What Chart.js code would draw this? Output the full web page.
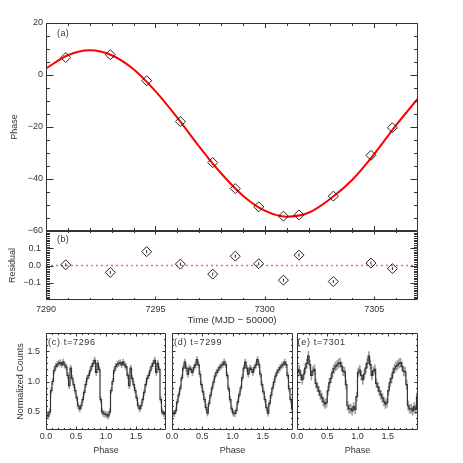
<!DOCTYPE html>
<html><head><meta charset="utf-8">
<script src="https://cdn.jsdelivr.net/npm/chart.js@4"></script>
<style>
html,body{margin:0;padding:0;background:#fff;width:463px;height:463px;overflow:hidden}
#wrap{position:relative;width:463px;height:463px}
canvas{position:absolute;left:0;top:0;width:463px;height:463px}
.lbl{position:absolute;font:9px "Liberation Sans",Arial,sans-serif;color:#333;white-space:pre;line-height:1}
</style></head><body>
<div id="wrap">
<canvas id="cA" width="463" height="463"></canvas>
<canvas id="cB" width="463" height="463"></canvas>
<canvas id="cC" width="463" height="463"></canvas>
<canvas id="cD" width="463" height="463"></canvas>
<canvas id="cE" width="463" height="463"></canvas>
<div class="lbl" style="left:57px;top:28.5px;letter-spacing:0.4px">(a)</div>
<div class="lbl" style="left:57px;top:235px;letter-spacing:0.4px">(b)</div>
<div class="lbl" style="left:48px;top:338px;letter-spacing:0.7px">(c) t=7296</div>
<div class="lbl" style="left:174px;top:338px;letter-spacing:0.7px">(d) t=7299</div>
<div class="lbl" style="left:297.5px;top:338px;letter-spacing:0.7px">(e) t=7301</div>
</div>
<script>
// ---------- data ----------
const obsTimes = [7290.90, 7292.94, 7294.60, 7296.14, 7297.62, 7298.65, 7299.72, 7300.85, 7301.56, 7303.13, 7304.85, 7305.83];
const obsPhase = [6.7, 7.8, -2.2, -17.9, -33.7, -43.7, -50.7, -54.3, -53.8, -46.6, -30.9, -20.3];
const obsResidual = [0.004, -0.040, 0.080, 0.008, -0.050, 0.054, 0.010, -0.085, 0.060, -0.093, 0.014, -0.018];
const fitTimes = [7290, 7291, 7292, 7293, 7294, 7295, 7296, 7297, 7298, 7299, 7300, 7301, 7302, 7303, 7304, 7305, 7306, 7307];
const fitPhase = [2.5, 7.6, 9.5, 7.6, 2.2, -6.2, -16.4, -27.5, -37.8, -46.4, -52.2, -54.5, -53.0, -47.6, -40.3, -30.4, -19.3, -9.0];
const timeTicks = [7290, 7295, 7300, 7305];
const phaseTicks = [20, 0, -20, -40, -60];
const residualTicks = [0.1, 0.0, -0.1];
const countTicks = [0.5, 1.0, 1.5];
const foldTicks = [0.0, 0.5, 1.0, 1.5];
const phaseBins = [0.0125,0.0375,0.0625,0.0875,0.1125,0.1375,0.1625,0.1875,0.2125,0.2375,0.2625,0.2875,0.3125,0.3375,0.3625,0.3875,0.4125,0.4375,0.4625,0.4875,0.5125,0.5375,0.5625,0.5875,0.6125,0.6375,0.6625,0.6875,0.7125,0.7375,0.7625,0.7875,0.8125,0.8375,0.8625,0.8875,0.9125,0.9375,0.9625,0.9875];
const countsC = [0.45,0.43,0.50,0.85,1.00,1.18,1.25,1.28,1.30,1.31,1.28,1.32,1.27,1.24,1.10,0.93,1.22,1.05,0.95,0.85,0.73,0.60,0.55,0.60,0.70,0.82,0.95,1.05,1.10,1.18,1.25,1.30,1.35,1.15,1.30,1.20,0.70,0.50,0.47,0.46];
const countsD = [0.48,0.47,0.52,0.66,0.78,0.89,1.06,1.22,1.32,1.22,1.12,1.22,1.20,1.15,1.23,1.27,1.36,1.28,1.12,0.95,0.83,0.70,0.57,0.48,0.64,0.77,0.89,0.99,1.09,1.15,1.19,1.23,1.26,1.28,1.32,1.28,1.10,0.88,0.70,0.55];
const countsE = [1.15,1.19,1.10,1.03,1.12,1.22,1.30,1.42,1.28,1.10,1.17,1.20,0.97,0.91,0.84,0.78,0.73,0.67,0.63,0.65,0.85,0.98,1.05,1.15,1.21,1.25,1.27,1.30,1.31,1.25,1.17,1.16,0.95,0.60,0.55,0.55,0.52,0.58,0.54,0.75];
const errC = 0.05, errD = 0.05, errE = 0.075;

// ---------- helpers ----------
const FONT = {family: '"Liberation Sans", Arial, sans-serif', size: 9};
const INK = '#333';
const minusFmt = s => String(s).replace('-', '\u2212');

const frameTicks = {
  id: 'frameTicks',
  afterDatasetsDraw(chart, args, o) {
    if (!o || !o.on) return;
    const {ctx, chartArea: a} = chart;
    const xs = chart.scales.x, ys = chart.scales.y;
    const L = Math.round(a.left) + 0.5, R = Math.round(a.right) - 0.5;
    const T = Math.round(a.top) + 0.5, B = Math.round(a.bottom) - 0.5;
    ctx.save();
    ctx.strokeStyle = INK; ctx.lineWidth = 1;
    ctx.beginPath();
    const tx = (v, len) => { const p = Math.round(xs.getPixelForValue(v)) + 0.5; ctx.moveTo(p, B); ctx.lineTo(p, B - len); ctx.moveTo(p, T); ctx.lineTo(p, T + len); };
    const ty = (v, len) => { const p = Math.round(ys.getPixelForValue(v)) + 0.5; ctx.moveTo(L, p); ctx.lineTo(L + len, p); ctx.moveTo(R, p); ctx.lineTo(R - len, p); };
    const nx = Math.round((xs.max - xs.min) / o.xMinor);
    for (let i = 1; i < nx; i++) tx(xs.min + i * o.xMinor, o.xMinorLen);
    Array.from(o.xMajor).forEach(v => tx(v, o.xMajorLen));
    const ny = Math.round((ys.max - ys.min) / o.yMinor);
    for (let i = 1; i < ny; i++) ty(ys.min + i * o.yMinor, o.yMinorLen);
    Array.from(o.yMajor).forEach(v => ty(v, o.yMajorLen));
    ctx.rect(L, T, R - L, B - T);
    ctx.stroke();
    ctx.restore();
  }
};
Chart.register(frameTicks);

function makeChart(id, area, axisW, axisH, datasets, xo, yo, ticksCfg) {
  const tickSetter = arr => s => { s.ticks = arr.map(v => ({value: v})); };
  return new Chart(document.getElementById(id), {
    type: 'line',
    data: {datasets},
    options: {
      responsive: false, animation: false, events: [],
      layout: {padding: {left: area.l - axisW, top: area.t, right: 463 - area.r, bottom: 463 - area.b - axisH}},
      plugins: {legend: {display: false}, tooltip: {enabled: false}, frameTicks: Object.assign({on: true}, ticksCfg)},
      scales: {
        x: {
          type: 'linear', min: xo.min, max: xo.max, offset: false,
          afterFit: s => { s.height = axisH; },
          afterBuildTicks: tickSetter(xo.ticks),
          grid: {display: false, drawTicks: false}, border: {display: false},
          ticks: {display: !!xo.labels, autoSkip: false, maxRotation: 0, padding: xo.pad || 0, font: FONT, color: INK, callback: xo.fmt},
          title: {display: !!xo.title, text: xo.title || '', font: xo.titleFont || FONT, color: INK, padding: 0}
        },
        y: {
          type: 'linear', min: yo.min, max: yo.max,
          afterFit: s => { s.width = axisW; },
          afterBuildTicks: tickSetter(yo.ticks),
          grid: {display: false, drawTicks: false}, border: {display: false},
          ticks: {display: !!yo.labels, autoSkip: false, padding: yo.pad || 0, font: FONT, color: INK, callback: yo.fmt},
          title: {display: !!yo.title, text: yo.title || '', font: FONT, color: INK, padding: 0}
        }
      }
    }
  });
}

// ---------- (a) phase ----------
makeChart('cA', {l: 46, t: 23, r: 418, b: 231}, 36.4, 0, [
  {data: obsTimes.map((t, i) => ({x: t, y: obsPhase[i]})), showLine: false, pointStyle: 'rectRot', pointRadius: 5,
   pointBorderColor: '#222', pointBackgroundColor: 'rgba(0,0,0,0)', pointBorderWidth: 1, order: 1},
  {data: fitTimes.map((t, i) => ({x: t, y: fitPhase[i]})), borderColor: '#ff0000', borderWidth: 2, pointRadius: 0,
   cubicInterpolationMode: 'monotone', fill: false, order: 2}
], {min: 7290, max: 7307, ticks: timeTicks, labels: false},
   {min: -60, max: 20, ticks: phaseTicks, labels: true, pad: 3, fmt: v => minusFmt(v), title: 'Phase'},
   {xMajor: timeTicks, xMinor: 1, xMajorLen: 4.5, xMinorLen: 2.5, yMajor: phaseTicks, yMinor: 5, yMajorLen: 7, yMinorLen: 3.5});

// ---------- (b) residual ----------
makeChart('cB', {l: 46, t: 231, r: 418, b: 300}, 38.4, 26.4, [
  {data: obsTimes.map((t, i) => ({x: t, y: obsResidual[i]})), showLine: false, pointStyle: 'rectRot', pointRadius: 5,
   pointBorderColor: '#222', pointBackgroundColor: 'rgba(0,0,0,0)', pointBorderWidth: 1, order: 1},
  {data: obsTimes.map((t, i) => ({x: t, y: obsResidual[i]})), showLine: false, pointStyle: 'line', pointRotation: 90, pointRadius: 1.5,
   pointBorderColor: '#222', pointBorderWidth: 1, order: 1},
  {data: [{x: 7290, y: 0}, {x: 7307, y: 0}], borderColor: '#f07070', borderWidth: 1.3, borderDash: [2, 3], pointRadius: 0, fill: false, order: 3}
], {min: 7290, max: 7307, ticks: timeTicks, labels: true, pad: 4.6, fmt: v => String(v), title: 'Time (MJD \u2212 50000)',
    titleFont: {family: '"Liberation Sans", Arial, sans-serif', size: 9.8}},
   {min: -0.2, max: 0.2, ticks: residualTicks, labels: true, pad: 5, fmt: v => minusFmt(Number(v).toFixed(1)), title: 'Residual'},
   {xMajor: timeTicks, xMinor: 1, xMajorLen: 3, xMinorLen: 1.5, yMajor: residualTicks, yMinor: 0.01, yMajorLen: 7, yMinorLen: 3.5});

// ---------- (c)(d)(e) light curves ----------
function foldSets(counts, err) {
  const pts = [];
  [0, 1].forEach(c => phaseBins.forEach((p, i) => pts.push({x: p + c, y: counts[i]})));
  return [
    {data: pts, stepped: 'middle', borderColor: '#333', borderWidth: 1.2, pointRadius: 0, fill: false, order: 1},
    {type: 'bar', data: pts.map(p => ({x: p.x, y: [p.y - err, p.y + err]})), backgroundColor: '#a0a0a0', borderWidth: 0, barThickness: 1, order: 2}
  ];
}
const foldX = {min: 0, max: 2, ticks: foldTicks, labels: true, pad: 1.6, fmt: v => Number(v).toFixed(1), title: 'Phase'};
const foldTickCfg = {xMajor: foldTicks, xMinor: 0.1, xMajorLen: 3, xMinorLen: 1.5, yMajor: countTicks, yMinor: 0.1, yMajorLen: 3, yMinorLen: 1.5};

makeChart('cC', {l: 46, t: 333, r: 166, b: 430}, 30.4, 25.9, foldSets(countsC, errC), foldX,
  {min: 0.2, max: 1.8, ticks: countTicks, labels: true, pad: 6, fmt: v => Number(v).toFixed(1), title: 'Normalized Counts'}, foldTickCfg);
makeChart('cD', {l: 172, t: 333, r: 293, b: 430}, 0, 25.9, foldSets(countsD, errD), foldX,
  {min: 0.2, max: 1.8, ticks: countTicks, labels: false}, foldTickCfg);
makeChart('cE', {l: 297, t: 333, r: 418, b: 430}, 0, 25.9, foldSets(countsE, errE), foldX,
  {min: 0.2, max: 1.8, ticks: countTicks, labels: false}, foldTickCfg);
</script>
</body></html>
